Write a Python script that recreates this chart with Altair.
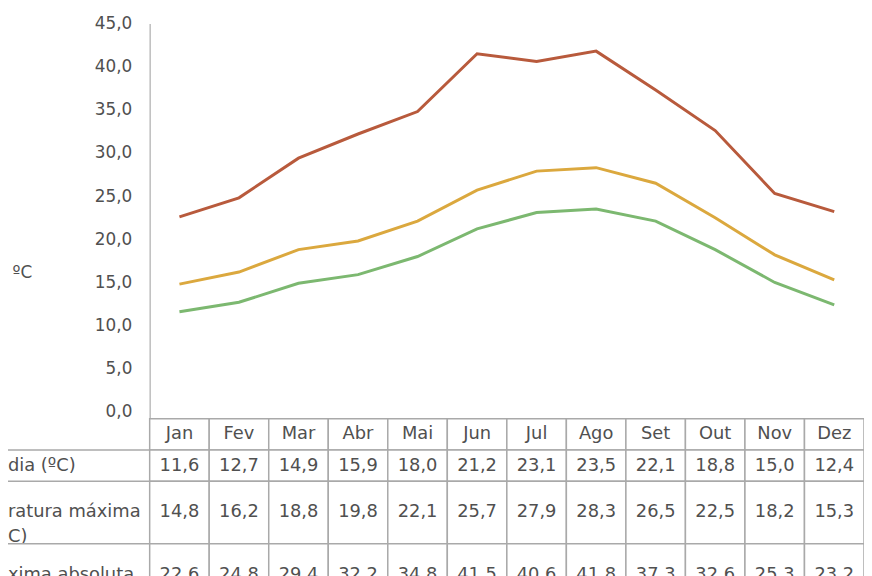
import altair as alt
import pandas as pd

# ---------------- data ----------------
months = ["Jan", "Fev", "Mar", "Abr", "Mai", "Jun", "Jul", "Ago", "Set", "Out", "Nov", "Dez"]
media = [11.6, 12.7, 14.9, 15.9, 18.0, 21.2, 23.1, 23.5, 22.1, 18.8, 15.0, 12.4]
maxima = [14.8, 16.2, 18.8, 19.8, 22.1, 25.7, 27.9, 28.3, 26.5, 22.5, 18.2, 15.3]
absoluta = [22.6, 24.8, 29.4, 32.2, 34.8, 41.5, 40.6, 41.8, 37.3, 32.6, 25.3, 23.2]
series_names = ["Temperatura média", "Temperatura máxima", "Temperatura máxima absoluta"]
series_colors = ["#7cb870", "#dba83e", "#b85a3c"]
row_labels = ["dia (ºC)", "ratura máxima\nC)", "xima absoluta\nC)"]
row_lines = [1, 2, 2]          # text lines per table row
header_lines = 1
y_ticks = [0, 5, 10, 15, 20, 25, 30, 35, 40, 45]
y_title = "ºC"

# ---------------- layout ----------------
W, H = 721, 563
PAD_L, PAD_T = 143, 13
DEG_PX = 8.71        # pixels per degree
ROW_PX = 31.5        # pixels per text line in the table
TABLE_TOP = 399      # table starts this far below top of plot
FONT = "DejaVu Sans"
TXT = "#505050"
GRID = "#a9a9a9"

series_vals = [media, maxima, absoluta]
lines_df = pd.DataFrame(
    [{"month": m, "series": s, "value": v}
     for s, vals in zip(series_names, series_vals) for m, v in zip(months, vals)]
)

# table geometry in "line" units
edges = [0, header_lines]
for n in row_lines:
    edges.append(edges[-1] + n)
cells = []
for m in months:
    cells.append({"month": m, "top": edges[0], "bottom": edges[1],
                  "mid": (edges[0] + edges[1]) / 2, "txt": m})
for r, vals in enumerate(series_vals):
    t, b = edges[r + 1], edges[r + 2]
    for m, v in zip(months, vals):
        cells.append({"month": m, "top": t, "bottom": b, "mid": (t + b) / 2,
                      "txt": f"{v:.1f}".replace(".", ",")})
cells_df = pd.DataFrame(cells)
labels_df = pd.DataFrame({
    "label": row_labels,
    "mid": [(edges[i + 1] + edges[i + 2]) / 2 for i in range(len(row_labels))],
})
rules_df = pd.DataFrame({"edge": edges[1:]})

xscale = alt.Scale(type="band", domain=months, paddingInner=0, paddingOuter=0)
X = alt.X("month:N", sort=months, scale=xscale, axis=None, bandPosition=0.5)
Xr = alt.X("month:N", sort=months, scale=xscale, axis=None)

ydom_lines = [45 - H / DEG_PX, 45]
tscale = alt.Scale(domain=[-TABLE_TOP / ROW_PX, (H - TABLE_TOP) / ROW_PX],
                   reverse=True, nice=False, zero=False)

lines = alt.Chart(lines_df).mark_line(strokeWidth=3).encode(
    x=X,
    y=alt.Y(
        "value:Q",
        scale=alt.Scale(domain=ydom_lines, nice=False, zero=False),
        axis=alt.Axis(
            values=y_ticks, grid=False, ticks=False, domainColor="#bdbdbd",
            domainWidth=1.5, labelPadding=18, labelFontSize=17, labelColor=TXT,
            labelFont=FONT,
            labelExpr="replace(format(datum.value, '.1f'), '.', ',')",
            title=y_title, titleAngle=0, titleX=-129, titleY=251,
            titleAlign="center", titleBaseline="middle", titleFontSize=17,
            titleFontWeight="normal", titleColor=TXT, titleFont=FONT,
        ),
    ),
    color=alt.Color("series:N", scale=alt.Scale(domain=series_names, range=series_colors),
                    legend=None),
    detail="series:N",
)

rects = alt.Chart(cells_df).mark_rect(fill="white", stroke=GRID, strokeWidth=1.5).encode(
    x=Xr,
    y=alt.Y("top:Q", scale=tscale, axis=None),
    y2="bottom:Q",
)
texts = alt.Chart(cells_df).mark_text(fontSize=18, font=FONT, color=TXT, baseline="middle").encode(
    x=X,
    y=alt.Y("mid:Q", scale=tscale, axis=None),
    text="txt:N",
)
row_text = alt.Chart(labels_df).mark_text(
    fontSize=18, font=FONT, color=TXT, align="left", baseline="middle",
    lineBreak="\n", lineHeight=25,
).encode(
    x=alt.value(-PAD_L),
    y=alt.Y("mid:Q", scale=tscale, axis=None),
    text="label:N",
)
row_rules = alt.Chart(rules_df).mark_rule(color=GRID, strokeWidth=1.5).encode(
    x=alt.value(-PAD_L - 10),
    x2=alt.value(0),
    y=alt.Y("edge:Q", scale=tscale, axis=None),
)

table = alt.layer(rects, texts, row_text, row_rules)

chart = alt.layer(lines, table).resolve_scale(y="independent").properties(
    width=W, height=H,
    autosize=alt.AutoSizeParams(type="none"),
    padding={"left": PAD_L, "top": PAD_T, "right": 0, "bottom": 0},
    background="white",
).configure_view(stroke=None)

chart.save("out.html", embed_options={"renderer": "svg", "actions": False})
